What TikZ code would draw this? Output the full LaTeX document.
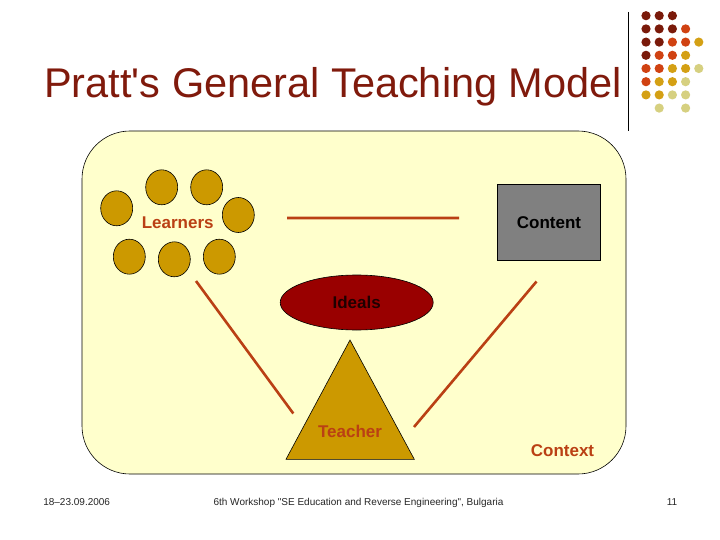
\documentclass[tikz,border=0pt]{standalone}
\usepackage{fontspec}
\setmainfont{Liberation Sans}[Ligatures=TeXOff]
\usetikzlibrary{shapes.geometric}
\definecolor{titlered}{RGB}{128,26,12}
\definecolor{rust}{RGB}{186,64,20}
\definecolor{gold}{RGB}{204,153,0}
\definecolor{wine}{RGB}{153,0,0}
\definecolor{pad}{RGB}{255,255,204}
\definecolor{dotA}{RGB}{122,26,10}
\definecolor{dotB}{RGB}{208,66,18}
\definecolor{dotC}{RGB}{212,160,20}
\definecolor{dotD}{RGB}{214,208,128}
\tikzset{
  learner/.style={ellipse,draw=black,fill=gold,minimum width=32pt,minimum height=35pt,inner sep=0pt},
  link/.style={rust,line width=2.6pt},
  lbl/.style={font=\fontsize{17}{19}\selectfont\bfseries,inner sep=0pt},
}
\begin{document}
\begin{tikzpicture}[x=1pt,y=-1pt,line width=.6pt]
\useasboundingbox[fill=white] (0,0) rectangle (720,540);
% heading
\node[anchor=base west,text=titlered,inner sep=0pt,font=\fontsize{41.5}{44}\selectfont] (title) at (44,98) {Pratt's General Teaching Model};
\draw[line width=.9pt] (628,12)--(628,131);
\foreach \r/\cols in {0/{0/A,1/A,2/A},1/{0/A,1/A,2/A,3/B},2/{0/A,1/A,2/B,3/B,4/C},3/{0/A,1/B,2/B,3/C},
  4/{0/B,1/B,2/C,3/C,4/D},5/{0/B,1/C,2/C,3/D},6/{0/C,1/C,2/D,3/D},7/{1/D,3/D}}
  \foreach \c/\k in \cols \fill[dot\k] (646+13.2*\c,15.7+13.2*\r) circle (4.6);
% context pad
\draw[fill=pad,rounded corners=48pt] (82,131) rectangle (626,474);
% learners
\node[learner] (l1) at (116.7,208.3) {};
\node[learner] (l2) at (161.7,187.3) {};
\node[learner] (l3) at (206.7,187.3) {};
\node[learner] (l4) at (238.3,215) {};
\node[learner] (l5) at (129.3,256.7) {};
\node[learner] (l6) at (174.3,259.3) {};
\node[learner] (l7) at (219.3,256.7) {};
\node[lbl,text=rust] (learners) at (177.7,222.7) {Learners};
% content
\node[draw=black,fill=gray,minimum width=103pt,minimum height=76pt,inner sep=0pt] (content) at (549,222.5) {};
\node[lbl] at (content) {Content};
% ideals
\node[ellipse,draw=black,fill=wine,minimum width=153pt,minimum height=55pt,inner sep=0pt] (ideals) at (356.7,302.5) {};
\node[lbl,text=black!80!wine] at (ideals) {Ideals};
% teacher
\coordinate (apex) at (350,340);
\draw[fill=gold] (apex)--(286,459.3)--(414.3,459.3)--cycle;
\node[lbl,text=rust] (teacher) at (350,431.7) {Teacher};
\node[lbl,text=rust] (context) at (562.5,451) {Context};
% links
\coordinate (a1) at (287,218); \coordinate (a2) at (459,218);
\coordinate (b1) at (196,281); \coordinate (b2) at (293.3,413.5);
\coordinate (c1) at (536.5,281.5); \coordinate (c2) at (414,427);
\draw[link] (a1)--(a2) (b1)--(b2) (c1)--(c2);
% footer
\begin{scope}[every node/.style={font=\fontsize{10}{12}\selectfont,text=black!85,inner sep=0pt,anchor=base}]
\node[anchor=base west] (date) at (43,505) {18–23.09.2006};
\node (event) at (358.5,505) {6th Workshop "SE Education and Reverse Engineering", Bulgaria};
\node (page) at (672,505) {11};
\end{scope}
\end{tikzpicture}
\end{document}
